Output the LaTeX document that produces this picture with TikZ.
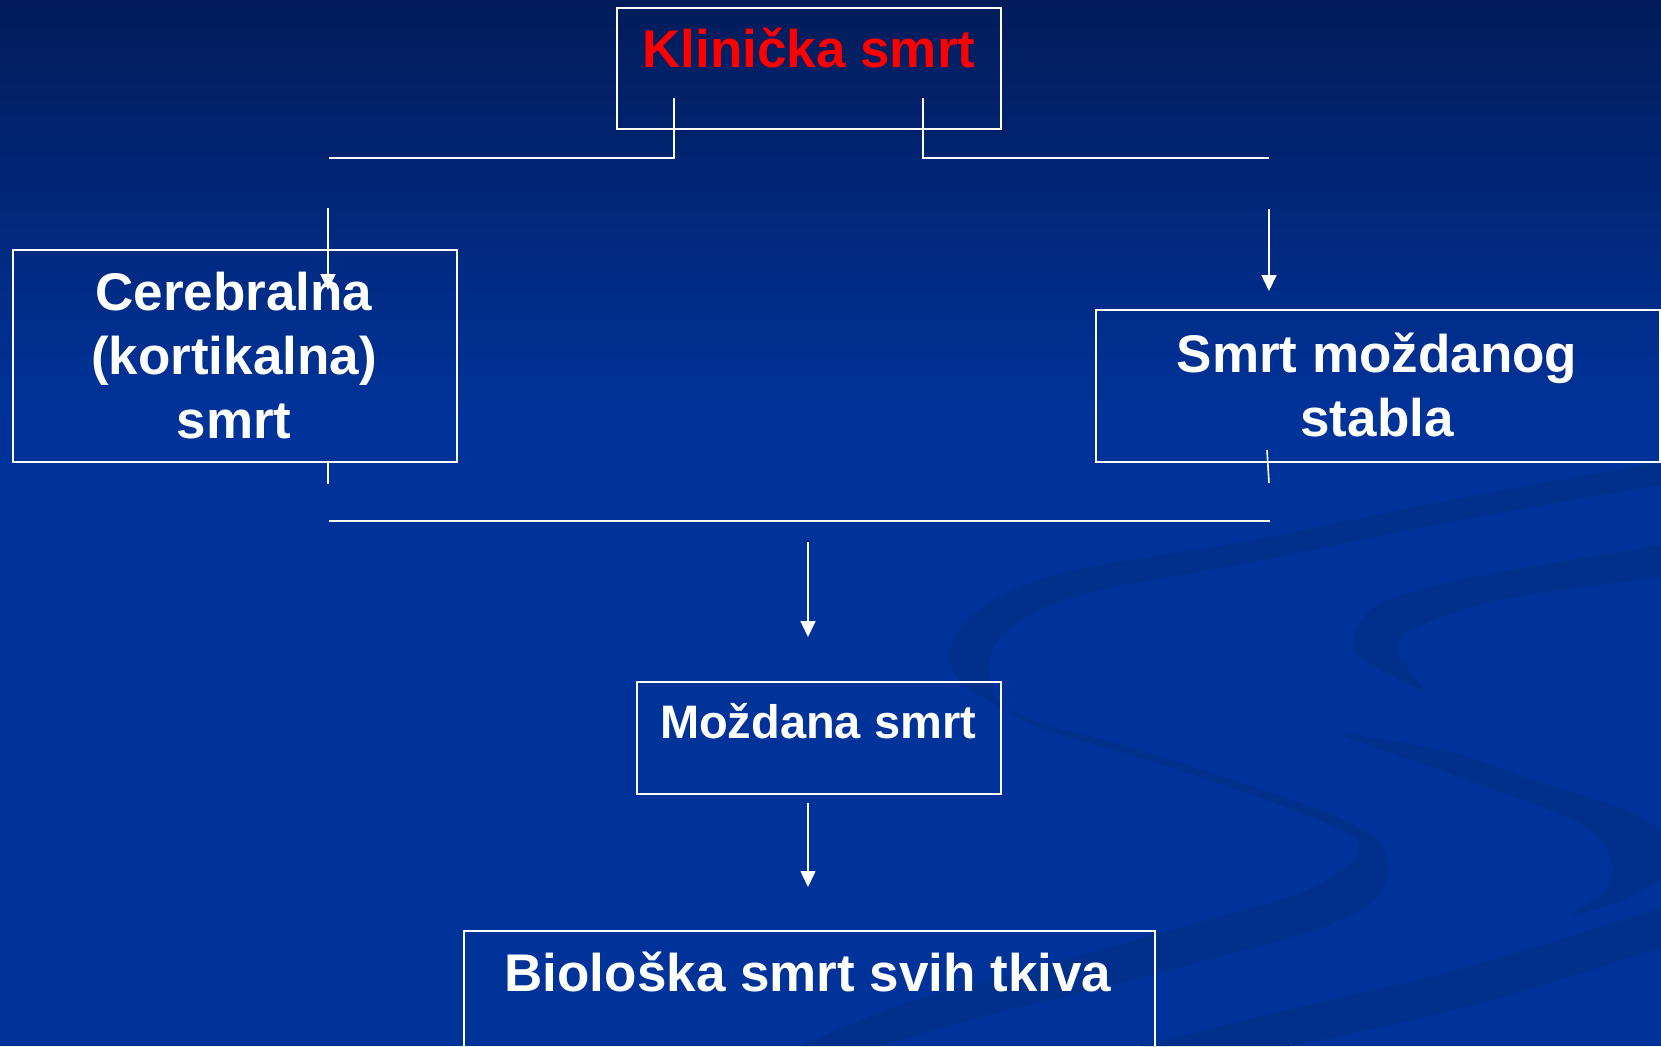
\documentclass[tikz,border=0pt]{standalone}
\usepackage{fontspec}
\setmainfont{Liberation Sans}
\usetikzlibrary{arrows.meta}
\definecolor{bgtop}{HTML}{021C5A}
\definecolor{bgmain}{HTML}{00339A}
\definecolor{swoosh}{HTML}{00308C}
\definecolor{klred}{HTML}{FF0000}
\newcommand\mlines[1]{\begin{tabular}[t]{@{}c@{}}#1\end{tabular}}
\begin{document}
\begin{tikzpicture}[x=1pt,y=-1pt,
  box/.style={draw=white, line width=1.6pt, rectangle, inner sep=0pt, anchor=north west},
  lbl/.style={anchor=base, text=white, font=\bfseries\fontsize{53}{64}\selectfont, inner sep=0pt},
  conn/.style={draw=white, line width=1.6pt},
  arr/.style={conn, -{Triangle[length=16pt,width=15pt]}}
]
\useasboundingbox (0,0) rectangle (1661,1046);
\clip (0,0) rectangle (1661,1046);
% background
\fill[bgmain] (0,0) rectangle (1661,1046);
\shade[top color=bgtop, bottom color=bgmain] (0,0) rectangle (1661,420);
% decorative swooshes
\fill[swoosh] plot[smooth, tension=0.6] coordinates {(1661,462) (1450,500) (1253,540) (1067,572) (983,607) (950,650) (967,687) (1033,720) (1133,748) (1233,780) (1333,815) (1377,840) (1388,870) (1375,900) (1340,920) (1300,935) (1200,962) (1100,988) (1000,1012) (900,1040) (880,1046)}
  -- plot[smooth, tension=0.6] coordinates {(800,1046) (900,1005) (1000,977) (1100,950) (1200,922) (1300,893) (1350,863) (1358,843) (1330,825) (1233,788) (1133,756) (1040,728) (1000,703) (990,675) (995,645) (1030,615) (1100,590) (1253,562) (1450,522) (1661,485)} -- cycle;
\fill[swoosh] plot[smooth, tension=0.6] coordinates {(1661,545) (1500,572) (1420,590) (1373,607) (1353,640) (1367,662) (1427,693)}
  -- plot[smooth, tension=0.6] coordinates {(1400,658) (1400,640) (1417,627) (1500,600) (1661,577)} -- cycle;
\fill[swoosh] plot[smooth, tension=0.6] coordinates {(1343,733) (1450,752) (1533,780) (1633,813) (1661,833)}
  -- (1661,880) -- plot[smooth, tension=0.6] coordinates {(1617,903) (1570,915) (1600,895) (1613,870) (1600,840) (1567,817) (1467,780) (1343,736)} -- cycle;
\fill[swoosh] plot[smooth, tension=0.6] coordinates {(1661,908) (1467,967) (1300,1007) (1140,1046)}
  -- plot[smooth, tension=0.6] coordinates {(1290,1046) (1467,1007) (1661,948)} -- cycle;

% boxes
\node[box, minimum width=384pt, minimum height=121pt] (klbox) at (616,7) {};
\node[box, minimum width=444pt, minimum height=212pt] (cebox) at (12,249) {};
\node[box, minimum width=564pt, minimum height=152pt] (smbox) at (1095,309) {};
\node[box, minimum width=364pt, minimum height=112pt] (mobox) at (636,681) {};
\node[box, minimum width=691pt, minimum height=140pt] (bibox) at (463,930) {};

% texts
\node[lbl, text=klred] (kltxt) at (809,68) {Klinička smrt};
\node[lbl] (cetxt) at (234,310) {\mlines{Cerebralna\\(kortikalna)\\smrt}};
\node[lbl] (smtxt) at (1377,372) {\mlines{Smrt moždanog\\stabla}};
\node[lbl, font=\bfseries\fontsize{47}{56}\selectfont] (motxt) at (818,738) {Moždana smrt};
\node[lbl] (bitxt) at (808,991) {Biološka smrt svih tkiva};

% connector points
\coordinate (kla) at (674,98);
\coordinate (klb) at (674,158);
\coordinate (klc) at (329,158);
\coordinate (kra) at (923,98);
\coordinate (krb) at (923,158);
\coordinate (krc) at (1269,158);
\coordinate (cea) at (328,208);
\coordinate (ceb) at (328,290);
\coordinate (sma) at (1269,209);
\coordinate (smb) at (1269,291);
\coordinate (cst) at (328,462);
\coordinate (csb) at (328,484);
\coordinate (sst) at (1267,450);
\coordinate (ssb) at (1269,483);
\coordinate (hl) at (329,521);
\coordinate (hr) at (1270,521);
\coordinate (moa) at (808,542);
\coordinate (mob) at (808,637);
\coordinate (bia) at (808,803);
\coordinate (bib) at (808,887);

% connectors
\draw[conn] (kla) -- (klb) -- (klc);
\draw[conn] (kra) -- (krb) -- (krc);
\draw[arr] (cea) -- (ceb);
\draw[arr] (sma) -- (smb);
\draw[conn] (cst) -- (csb);
\draw[conn] (sst) -- (ssb);
\draw[conn] (hl) -- (hr);
\draw[arr] (moa) -- (mob);
\draw[arr] (bia) -- (bib);
\end{tikzpicture}
\end{document}
